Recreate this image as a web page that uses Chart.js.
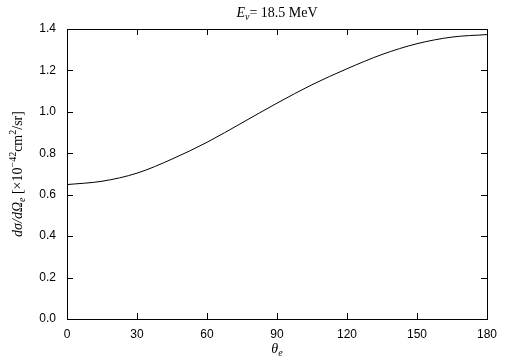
<!DOCTYPE html>
<html>
<head>
<meta charset="utf-8">
<script src="https://cdn.jsdelivr.net/npm/chart.js@4"></script>
<style>
html,body{margin:0;padding:0;background:#fff;}
#wrap{width:505px;height:361px;position:relative;}
</style>
</head>
<body>
<div id="wrap"><canvas id="c" width="505" height="361"></canvas></div>
<script>
// Data
const thetaDeg = [0, 15, 30, 45, 60, 75, 90, 105, 120, 135, 150, 165, 180];
const crossSection = [0.649, 0.665, 0.704, 0.772, 0.853, 0.947, 1.042, 1.131, 1.208, 1.277, 1.329, 1.361, 1.373];
const xTicks = [0, 30, 60, 90, 120, 150, 180];
const yTicks = [0.0, 0.2, 0.4, 0.6, 0.8, 1.0, 1.2, 1.4];
const titleParts = {main: "E", sub: "ν", rest: "= 18.5 MeV"};

const points = thetaDeg.map((t, i) => ({x: t, y: crossSection[i]}));

const FONT_SANS = "Liberation Sans, Arial, Helvetica, sans-serif";
const FONT_SERIF = "Liberation Serif, Times New Roman, serif";

const framePlugin = {
  id: 'frame',
  afterDraw(chart) {
    const ctx = chart.ctx;
    const a = chart.chartArea;
    const xs = chart.scales.x, ys = chart.scales.y;
    ctx.save();
    ctx.strokeStyle = '#000';
    ctx.lineWidth = 1;
    // frame
    ctx.strokeRect(Math.round(a.left) + 0.5, Math.round(a.top) + 0.5,
                   Math.round(a.right - a.left), Math.round(a.bottom - a.top));
    const tl = 6;
    ctx.beginPath();
    xTicks.forEach(v => {
      const px = Math.round(xs.getPixelForValue(v)) + 0.5;
      ctx.moveTo(px, a.bottom); ctx.lineTo(px, a.bottom - tl);
      ctx.moveTo(px, a.top); ctx.lineTo(px, a.top + tl);
    });
    yTicks.forEach(v => {
      const py = Math.round(ys.getPixelForValue(v)) + 0.5;
      ctx.moveTo(a.left, py); ctx.lineTo(a.left + tl, py);
      ctx.moveTo(a.right, py); ctx.lineTo(a.right - tl, py);
    });
    ctx.stroke();

    const cx = (a.left + a.right) / 2;
    ctx.fillStyle = '#000';
    ctx.textBaseline = 'alphabetic';
    // Title: E_ν= 18.5 MeV
    {
      const fMain = "italic 14px " + FONT_SERIF;
      const fSub = "italic 10px " + FONT_SERIF;
      const fRest = "14px " + FONT_SERIF;
      ctx.font = fMain; const w1 = ctx.measureText(titleParts.main).width;
      ctx.font = fSub; const w2 = ctx.measureText(titleParts.sub).width;
      ctx.font = fRest; const w3 = ctx.measureText(titleParts.rest).width;
      let x = cx - (w1 + w2 + w3) / 2;
      const base = 17;
      ctx.textAlign = 'left';
      ctx.font = fMain; ctx.fillText(titleParts.main, x, base); x += w1;
      ctx.font = fSub; ctx.fillText(titleParts.sub, x, base + 3); x += w2;
      ctx.font = fRest; ctx.fillText(titleParts.rest, x, base);
    }
    // x label: θ_e
    {
      const f1 = "italic 14px " + FONT_SERIF, f2 = "italic 10px " + FONT_SERIF;
      ctx.font = f1; const w1 = ctx.measureText("θ").width;
      ctx.font = f2; const w2 = ctx.measureText("e").width;
      let x = cx - (w1 + w2) / 2;
      ctx.font = f1; ctx.fillText("θ", x, 353); x += w1;
      ctx.font = f2; ctx.fillText("e", x, 356);
    }
    // y label rotated
    {
      const segs = [
        {t: "dσ/dΩ", f: "italic 14px " + FONT_SERIF, dy: 0},
        {t: "e", f: "italic 10px " + FONT_SERIF, dy: 3},
        {t: " [×10", f: "14px " + FONT_SERIF, dy: 0},
        {t: "−42", f: "10px " + FONT_SERIF, dy: -6},
        {t: "cm", f: "14px " + FONT_SERIF, dy: 0},
        {t: "2", f: "10px " + FONT_SERIF, dy: -6},
        {t: "/sr]", f: "14px " + FONT_SERIF, dy: 0}
      ];
      let total = 0;
      segs.forEach(s => { ctx.font = s.f; s.w = ctx.measureText(s.t).width; total += s.w; });
      ctx.translate(22, (a.top + a.bottom) / 2);
      ctx.rotate(-Math.PI / 2);
      let x = -total / 2;
      segs.forEach(s => { ctx.font = s.f; ctx.fillText(s.t, x, s.dy); x += s.w; });
    }
    ctx.restore();
  }
};

new Chart(document.getElementById('c'), {
  type: 'line',
  data: {
    datasets: [{
      data: points,
      borderColor: '#000',
      borderWidth: 1,
      pointRadius: 0,
      fill: false,
      cubicInterpolationMode: 'monotone'
    }]
  },
  options: {
    responsive: false,
    animation: false,
    devicePixelRatio: 1,
    layout: {padding: {top: 29, right: 18, left: 0, bottom: 0}},
    plugins: {legend: {display: false}, tooltip: {enabled: false}, title: {display: false}},
    scales: {
      x: {
        type: 'linear', min: 0, max: 180,
        afterBuildTicks(scale) { scale.ticks = xTicks.map(v => ({value: v})); },
        afterFit(scale) { scale.height = 42; },
        grid: {display: false, drawTicks: false},
        border: {display: false},
        ticks: {color: '#000', font: {family: FONT_SANS, size: 12}, padding: 8, maxRotation: 0,
                callback: v => String(v)}
      },
      y: {
        type: 'linear', min: 0, max: 1.4,
        afterBuildTicks(scale) { scale.ticks = yTicks.map(v => ({value: v})); },
        afterFit(scale) { scale.width = 67; },
        grid: {display: false, drawTicks: false},
        border: {display: false},
        ticks: {color: '#000', font: {family: FONT_SANS, size: 12}, padding: 11,
                callback: v => Number(v).toFixed(1)}
      }
    }
  },
  plugins: [framePlugin]
});
</script>
</body>
</html>
